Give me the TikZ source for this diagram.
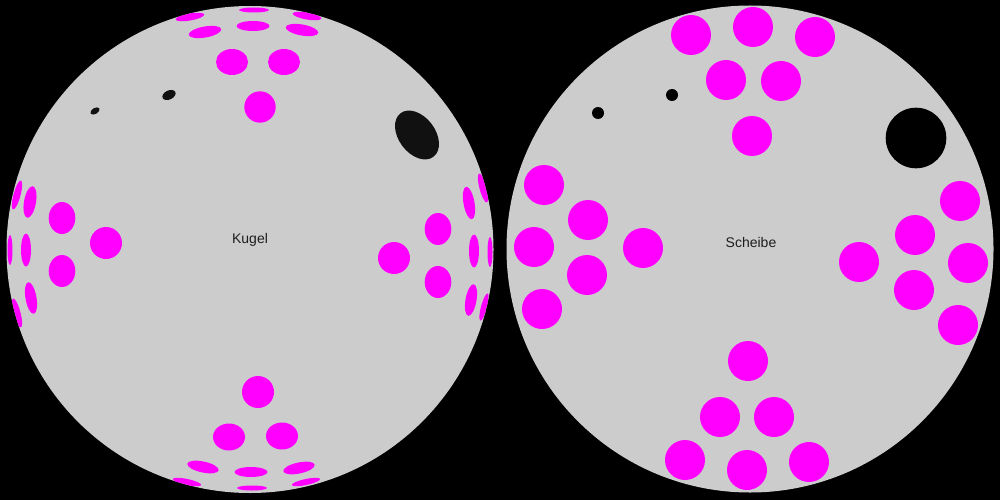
\documentclass[tikz,border=0pt]{standalone}
\usepackage{fontspec}
\setmainfont{Liberation Sans}
\definecolor{mag}{HTML}{FF00FF}
\definecolor{disk}{HTML}{CCCCCC}
\definecolor{ink}{HTML}{111112}
\definecolor{txt}{HTML}{1E1E1E}
\tikzset{
  magfill/.style={fill=mag},
  inkfill/.style={fill=ink},
  diskfill/.style={fill=disk},
  lbl/.style={font=\fontsize{14pt}{16pt}\selectfont, text=txt, anchor=base, inner sep=0pt}
}
% x, y (image px), x radius, y radius, rotation
\newcommand\mel[5]{\fill[magfill,rotate around={#5:(#1,-#2)}] (#1,-#2) ellipse [x radius=#3, y radius=#4];}
\newcommand\kel[5]{\fill[inkfill,rotate around={#5:(#1,-#2)}] (#1,-#2) ellipse [x radius=#3, y radius=#4];}
\newcommand\mdot[2]{\fill[magfill] (#1,-#2) circle [radius=20];}
\begin{document}
\begin{tikzpicture}[x=1pt,y=1pt]
\fill[black] (0,0) rectangle (1000,-500);
\useasboundingbox (0,0) rectangle (1000,-500);
% ---------- Kugel ----------
\fill[diskfill] (250,-249.5) circle [radius=243.5];
\begin{scope}
\clip (250,-249.5) circle [radius=243.5];
% top
\mel{190}{17}{14.5}{3.5}{10}
\mel{254}{10}{15}{2.5}{0}
\mel{307}{16}{14.5}{3.5}{-10}
\mel{205}{32}{16.5}{5.5}{10}
\mel{253}{26}{16.5}{5}{0}
\mel{302}{30}{16.5}{5.5}{-10}
\mel{232}{62}{16}{13}{0}
\mel{284}{62}{16}{13}{0}
\mel{260}{107}{15.7}{15.7}{0}
% left
\mel{17}{195}{3.5}{15}{-15}
\mel{30}{202}{6}{16}{-10}
\mel{62}{218}{13.3}{16}{0}
\mel{10}{250}{2.5}{15}{0}
\mel{26}{250}{5}{16.5}{0}
\mel{106}{243}{16}{16}{0}
\mel{62}{271}{13.3}{16}{0}
\mel{31}{298}{5.5}{16}{10}
\mel{17}{313}{3.5}{15}{15}
% right
\mel{483}{188}{3.5}{15}{15}
\mel{469}{203}{5.5}{16.5}{10}
\mel{438}{229}{13.3}{16}{0}
\mel{394}{258}{16}{16}{0}
\mel{474}{251}{5}{16.5}{0}
\mel{490}{252}{2.5}{15}{0}
\mel{438}{282}{13.3}{16}{0}
\mel{471}{300}{5.5}{16}{-10}
\mel{484}{307}{3}{14}{-15}
% bottom
\mel{258}{392}{16}{16}{0}
\mel{229}{437}{16}{13.5}{0}
\mel{282}{436}{16}{13.5}{0}
\mel{203}{467}{16}{5.5}{-12}
\mel{251}{472}{16.5}{5}{0}
\mel{299}{468}{16}{5.5}{12}
\mel{187}{482}{14.5}{3}{-12}
\mel{252}{488}{15}{2.5}{0}
\mel{306}{482}{14.5}{3}{12}
% black
\kel{95}{111}{5}{3}{30}
\kel{169}{95}{7}{4.5}{25}
\kel{417}{135}{27.3}{18.3}{-53}
\end{scope}
\node[lbl] (kugel) at (250,-243) {Kugel};
% ---------- Scheibe ----------
\fill[diskfill] (750,-249) circle [radius=243.5];
\mdot{691}{35}
\mdot{753}{27}
\mdot{815}{37}
\mdot{726}{80}
\mdot{781}{81}
\mdot{752}{136}
\mdot{544}{185}
\mdot{588}{220}
\mdot{534}{247}
\mdot{643}{248}
\mdot{587}{275}
\mdot{542}{309}
\mdot{960}{201}
\mdot{915}{235}
\mdot{859}{262}
\mdot{968}{263}
\mdot{914}{290}
\mdot{958}{325}
\mdot{748}{361}
\mdot{720}{417}
\mdot{774}{417}
\mdot{685}{460}
\mdot{747}{470}
\mdot{809}{462}
\fill[black] (598,-113) circle [radius=6];
\fill[black] (672,-95) circle [radius=6];
\fill[black] (916,-138) circle [radius=30.3];
\node[lbl] (scheibe) at (751,-247.5) {Scheibe};
\end{tikzpicture}
\end{document}
